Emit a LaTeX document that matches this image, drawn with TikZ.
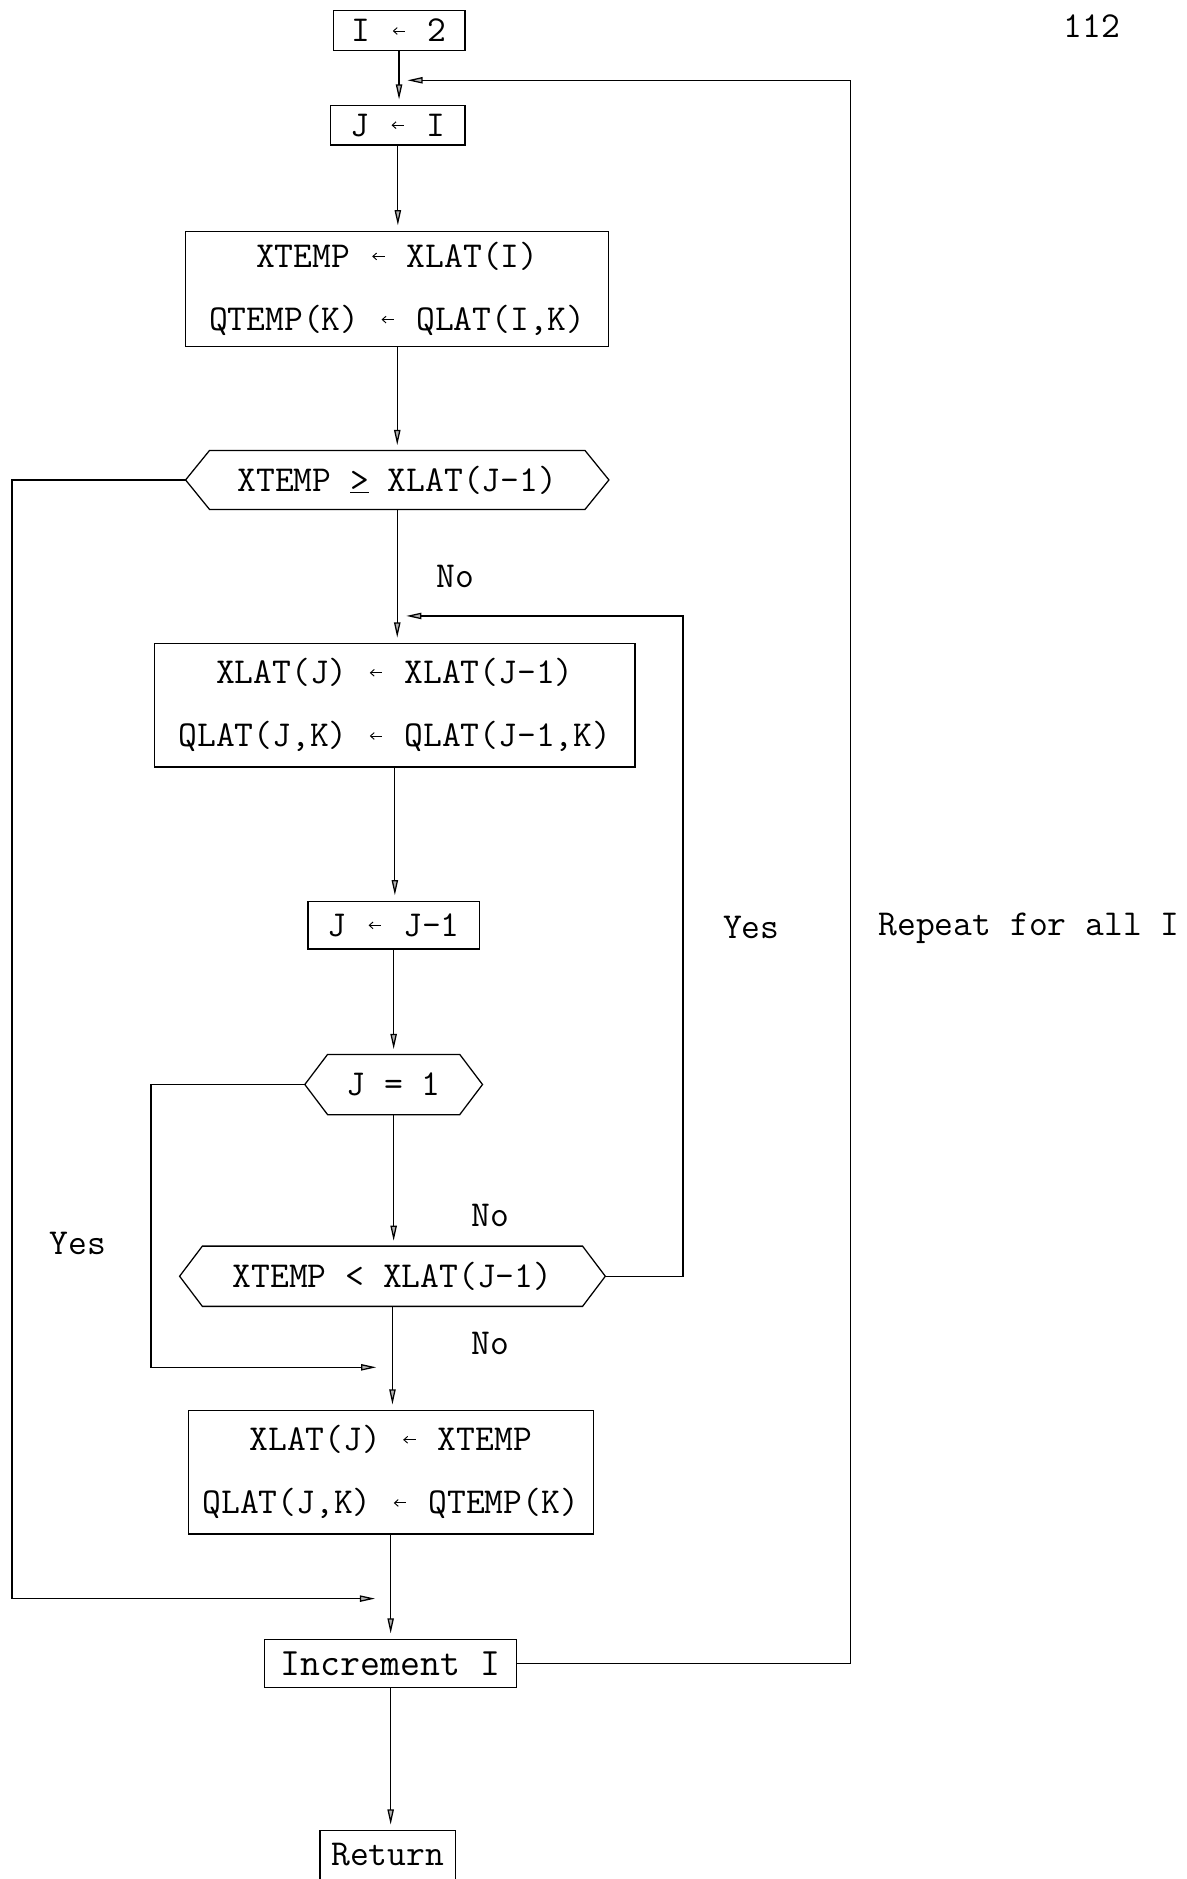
\documentclass[tikz,border=0pt]{standalone}
\usepackage{fontspec}
\usetikzlibrary{arrows.meta,calc}

% small typewriter-style assignment arrow, one character cell wide
\newcommand{\assign}{\makebox[0.525em]{\tikz[baseline=-0.3em]
  \draw[line width=1.1pt, {Straight Barb[length=4.5pt,width=8pt]}-] (0pt,0pt) -- (15pt,0pt);}}

\tikzset{
  txt/.style={font=\ttfamily\fontsize{43.35pt}{75pt}\selectfont, inner sep=0pt},
  procbox/.style={txt, draw, line width=1.5pt, align=center},
  hexcore/.style={txt, align=center},
  flow/.style={line width=1.5pt, -{Triangle[length=18pt,width=7.5pt,fill=gray!60]}},
  gap/.style={shorten >=0.22cm},
}

% hexagonal decision outline around a node, with named side points
\newcommand{\hexoutline}[2]{%
  \coordinate (#1-l) at ($(#1.west)+(-#2,0)$);
  \coordinate (#1-r) at ($(#1.east)+(#2,0)$);
  \draw[line width=1.5pt] (#1-l) -- (#1.north west) -- (#1.north east) -- (#1-r)
    -- (#1.south east) -- (#1.south west) -- cycle;}

\begin{document}
\begin{tikzpicture}[x=0.05cm,y=-0.05cm]
\useasboundingbox (0,0) rectangle (990,1568);

% process boxes
\node[procbox, minimum width=5.5cm, minimum height=1.65cm] (n1) at (333,25.5) {I \assign{} 2};
\node[procbox, minimum width=5.6cm, minimum height=1.65cm] (n2) at (332,104.5) {J \assign{} I};
\node[procbox, minimum width=17.65cm, minimum height=4.8cm] (n3) at (331.5,241)
  {XTEMP \assign{} XLAT(I)\\QTEMP(K) \assign{} QLAT(I,K)};
\node[procbox, minimum width=20.05cm, minimum height=5.15cm] (n4) at (329.5,588.5)
  {XLAT(J) \assign{} XLAT(J-1)\\QLAT(J,K) \assign{} QLAT(J-1,K)};
\node[procbox, minimum width=7.15cm, minimum height=2cm] (n5) at (328.5,772) {J \assign{} J-1};
\node[procbox, minimum width=16.9cm, minimum height=5.15cm] (n6) at (326,1228.5)
  {XLAT(J) \assign{} XTEMP\\QLAT(J,K) \assign{} QTEMP(K)};
\node[procbox, minimum width=10.5cm, minimum height=2cm,
  font=\ttfamily\fontsize{46pt}{75pt}\selectfont] (n7) at (326,1388) {Increment I};
\node[procbox, minimum width=5.65cm, text height=1.05cm, text depth=1.5cm, inner ysep=0.4cm,
  anchor=north] (n8) at (323.5,1527) {Return};

% decisions
\node[hexcore, minimum width=15.65cm, minimum height=2.45cm] (d1) at (331.5,400.5)
  {XTEMP \underline{>} XLAT(J-1)};
\hexoutline{d1}{20}
\node[hexcore, minimum width=5.5cm, minimum height=2.5cm] (d2) at (328.5,905) {J = 1};
\hexoutline{d2}{19}
\node[hexcore, minimum width=15.85cm, minimum height=2.5cm] (d3) at (327.5,1065)
  {XTEMP < XLAT(J-1)};
\hexoutline{d3}{19}

% join points on the main line
\coordinate (join1) at (340,67);
\coordinate (join2) at (339,514);
\coordinate (join3) at (314,1141);
\coordinate (join4) at (313,1334);
\coordinate (loopR) at (710,67);
\coordinate (innerR) at (570,514);
\coordinate (outerL) at (10,1334);
\coordinate (innerL) at (126,1141);

% main flow
\draw[flow,gap] (n1.south) -- (n1.south |- n2.north);
\draw[flow,gap] (n2.south) -- (n2.south |- n3.north);
\draw[flow,gap] (n3.south) -- (n3.south |- d1.north);
\draw[flow,gap] (d1.south) -- (d1.south |- n4.north);
\draw[flow,gap] (n4.south) -- (n4.south |- n5.north);
\draw[flow,gap] (n5.south) -- (n5.south |- d2.north);
\draw[flow,gap] (d2.south) -- (d2.south |- d3.north);
\draw[flow,gap] (d3.south) -- (d3.south |- n6.north);
\draw[flow,gap] (n6.south) -- (n6.south |- n7.north);
\draw[flow,gap] (n7.south) -- (n7.south |- n8.north);

% loops and branches
\draw[flow] (n7.east) -| (loopR) -- (join1);
\draw[flow] (d3-r) -| (innerR) -- (join2);
\draw[flow] (d1-l) -| (outerL) -- (join4);
\draw[flow] (d2-l) -| (innerL) -- (join3);

% labels
\node[txt] (no1) at (380,481) {No};
\node[txt] (yes1) at (627,774) {Yes};
\node[txt, anchor=west] (rep) at (733,775) {Repeat for all I};
\node[txt] (no2) at (409,1014) {No};
\node[txt] (no3) at (409,1121) {No};
\node[txt] (yes2) at (65,1038) {Yes};
\node[txt] (page) at (911,22) {112};
\end{tikzpicture}
\end{document}
